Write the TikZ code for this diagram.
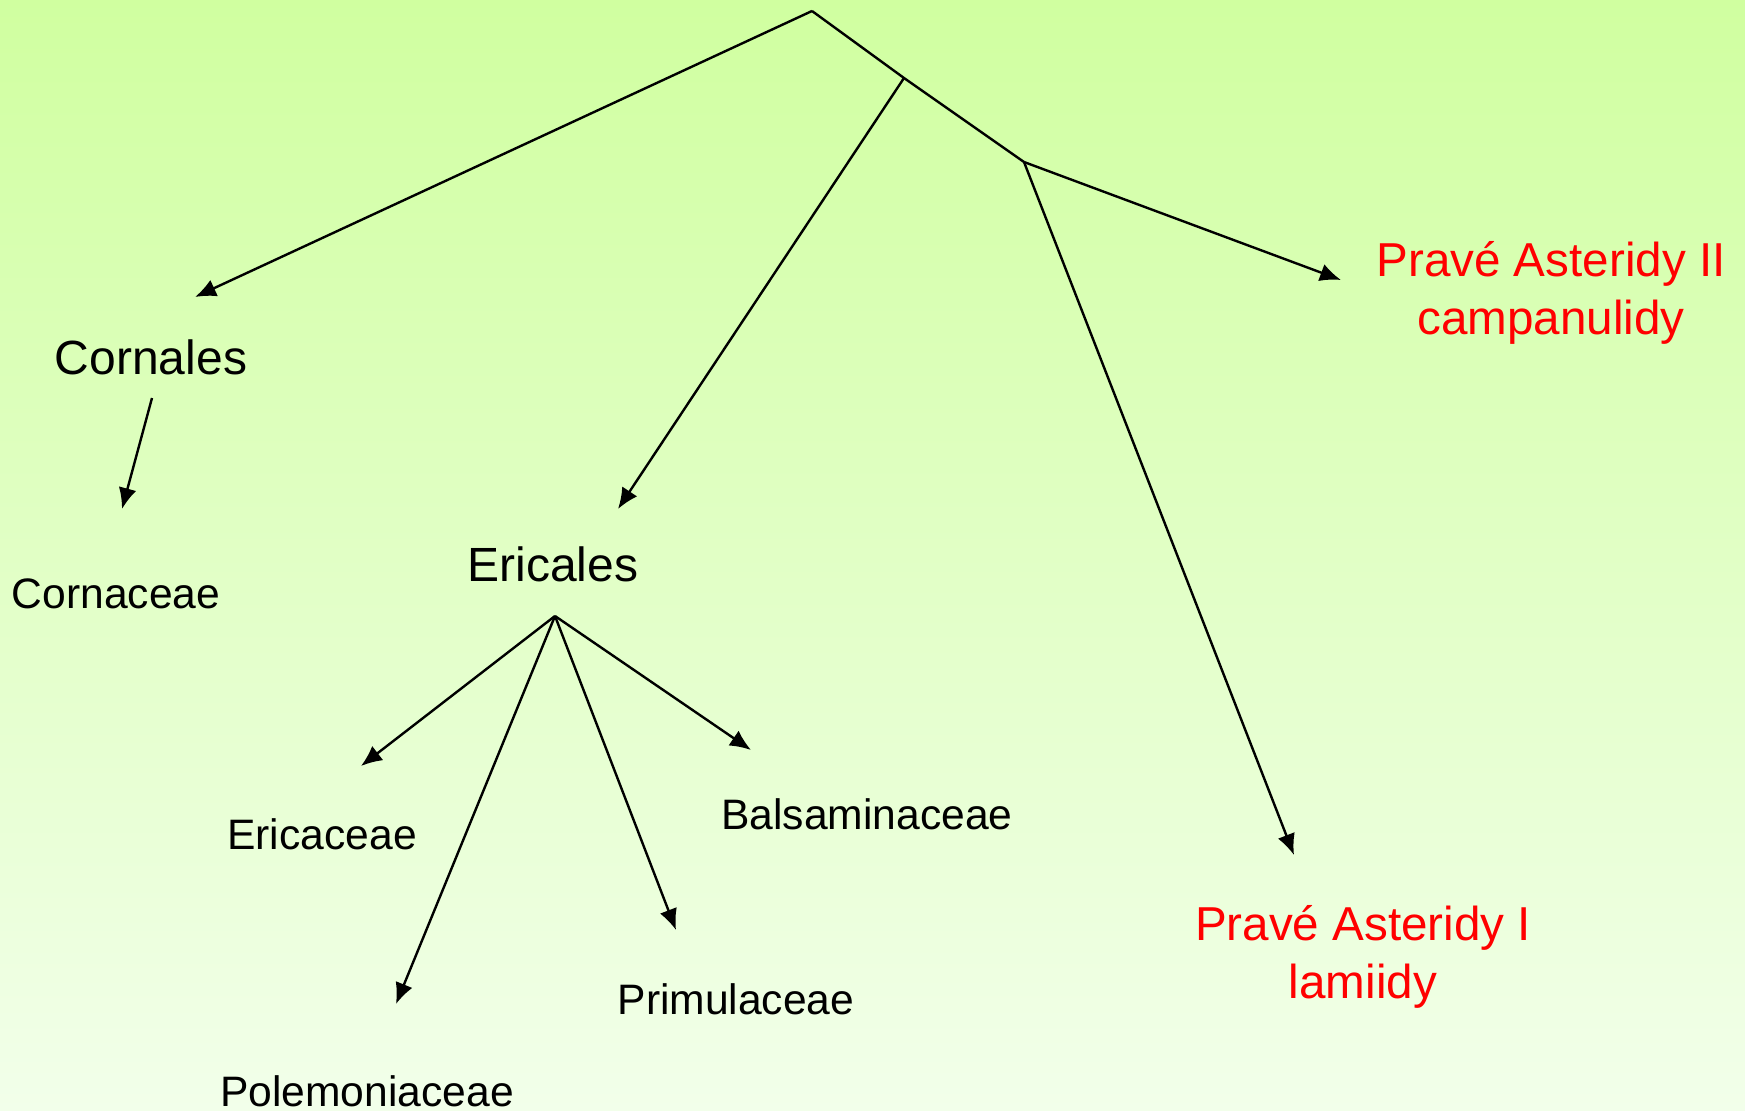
\documentclass[tikz,border=0pt]{standalone}
\usepackage{fontspec}
\setmainfont{Liberation Sans}
\usetikzlibrary{arrows.meta}
\definecolor{bgtop}{RGB}{208,255,160}
\definecolor{bgbottom}{RGB}{242,255,234}
\definecolor{redlabel}{RGB}{255,0,0}
\begin{document}
\begin{tikzpicture}[x=0.5pt,y=-0.5pt,
  branch/.style={line width=1.2pt, black},
  arrowed/.style={branch, -{Latex[length=10.5pt,width=9pt]}},
  order/.style={font=\fontsize{24}{28}\selectfont, inner sep=0pt},
  family/.style={font=\fontsize{21.3}{25}\selectfont, inner sep=0pt},
  clade/.style={font=\fontsize{23.8}{29}\selectfont, text=redlabel, align=center, inner sep=0pt}]
  % background gradient
  \shade[top color=bgtop, bottom color=bgbottom] (0,0) rectangle (1745,1110);
  \useasboundingbox (0,0) rectangle (1745,1110);

  % branching points
  \coordinate (root) at (812,11);
  \coordinate (j1) at (904,78);
  \coordinate (j2) at (1024,162);
  \coordinate (hub) at (555,616);

  % arrow targets
  \coordinate (tCornales) at (195,297);
  \coordinate (tEricales) at (618,509);
  \coordinate (tCampan) at (1341,280);
  \coordinate (tLami) at (1294,855);
  \coordinate (sCornales) at (152,398);
  \coordinate (tCornaceae) at (122,509);
  \coordinate (tEricaceae) at (361,766);
  \coordinate (tPolemon) at (396,1004);
  \coordinate (tPrimul) at (676,930);
  \coordinate (tBalsam) at (751,750);

  % labels
  \node[order] (cornales) at (151,357) {Cornales};
  \node[family] (cornaceae) at (116,594) {Cornaceae};
  \node[order] (ericales) at (553,564) {Ericales};
  \node[family] (ericaceae) at (322,834) {Ericaceae};
  \node[family] (balsam) at (867,814) {Balsaminaceae};
  \node[family] (primul) at (736,999) {Primulaceae};
  \node[family] (polemon) at (367,1091) {Polemoniaceae};
  \node[clade] (campan) at (1551,293) {Pravé Asteridy II\\campanulidy};
  \node[clade] (lami) at (1363,957) {Pravé Asteridy I\\lamiidy};

  % main tree
  \draw[branch] (root) -- (j1) -- (j2);
  \draw[arrowed] (root) -- (tCornales);
  \draw[arrowed] (j1) -- (tEricales);
  \draw[arrowed] (j2) -- (tCampan);
  \draw[arrowed] (j2) -- (tLami);

  % Cornales
  \draw[arrowed] (sCornales) -- (tCornaceae);

  % Ericales
  \draw[arrowed] (hub) -- (tEricaceae);
  \draw[arrowed] (hub) -- (tPolemon);
  \draw[arrowed] (hub) -- (tPrimul);
  \draw[arrowed] (hub) -- (tBalsam);
\end{tikzpicture}
\end{document}
